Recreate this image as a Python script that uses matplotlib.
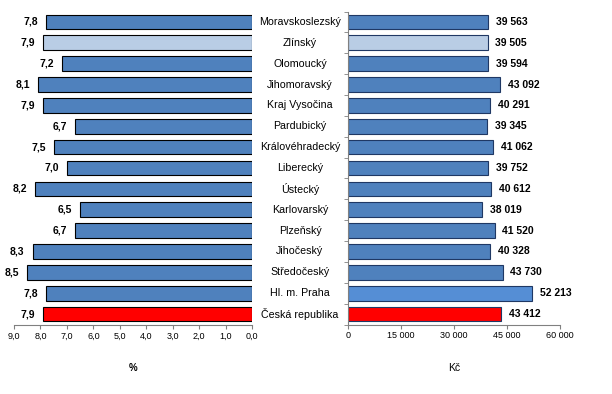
import matplotlib
matplotlib.use("Agg")
import matplotlib.pyplot as plt
import numpy as np

plt.rcParams['font.family'] = ['Liberation Sans', 'DejaVu Sans']

regions = ["Moravskoslezský", "Zlínský", "Olomoucký", "Jihomoravský", "Kraj Vysočina",
           "Pardubický", "Královéhradecký", "Liberecký", "Ústecký", "Karlovarský",
           "Plzeňský", "Jihočeský", "Středočeský", "Hl. m. Praha", "Česká republika"]
pct = [7.8, 7.9, 7.2, 8.1, 7.9, 6.7, 7.5, 7.0, 8.2, 6.5, 6.7, 8.3, 8.5, 7.8, 7.9]
wage = [39563, 39505, 39594, 43092, 40291, 39345, 41062, 39752, 40612, 38019,
        41520, 40328, 43730, 52213, 43412]
pct_ticks = [9.0, 8.0, 7.0, 6.0, 5.0, 4.0, 3.0, 2.0, 1.0, 0.0]
wage_ticks = [0, 15000, 30000, 45000, 60000]

base = '#4F81BD'
left_colors = [base] * len(regions)
left_colors[1] = '#B9CDE5'
left_colors[-1] = '#FF0000'
right_colors = [base] * len(regions)
right_colors[1] = '#B9CDE5'
right_colors[13] = '#558ED5'
right_colors[-1] = '#FF0000'

fig = plt.figure(figsize=(6.12, 3.94), dpi=100)
axL = fig.add_axes([14/612, (394-324.5)/394, 238/612, 313/394])
axR = fig.add_axes([348/612, (394-324.5)/394, 212/612, 313/394])

y = np.arange(len(regions))
gray = '#808080'

axL.barh(y, pct, height=0.7, color=left_colors, edgecolor='black', linewidth=0.8)
axL.set_xlim(9.0, 0.0)
axL.set_ylim(len(regions) - 0.5, -0.5)
axL.set_xticks(pct_ticks)
axL.set_xticklabels([f"{t:.1f}".replace('.', ',') for t in pct_ticks], fontsize=6.5)
axL.set_yticks([])
for s in ['left', 'right', 'top']:
    axL.spines[s].set_visible(False)
axL.spines['bottom'].set_color(gray)
axL.tick_params(axis='x', length=3, color=gray, pad=2)
axL.set_xlabel('%', fontsize=7, fontweight='bold', labelpad=16)
for yi, v in zip(y, pct):
    axL.text(v + 0.3, yi, f"{v:.1f}".replace('.', ','), ha='right', va='center',
             fontsize=7.5, fontweight='bold')

axR.barh(y, wage, height=0.7, color=right_colors, edgecolor='#1F3864', linewidth=0.8)
axR.set_xlim(0, 60000)
axR.set_ylim(len(regions) - 0.5, -0.5)
axR.set_xticks(wage_ticks)
axR.set_xticklabels([f"{t:,}".replace(',', ' ') for t in wage_ticks], fontsize=6.5)
axR.set_yticks([])
axR.set_yticks(np.arange(-0.5, len(regions)), minor=True)
axR.tick_params(axis='y', which='minor', length=3, color=gray)
for s in ['right', 'top']:
    axR.spines[s].set_visible(False)
axR.spines['bottom'].set_color(gray)
axR.spines['left'].set_color(gray)
axR.tick_params(axis='x', length=3, color=gray, pad=2)
axR.set_xlabel('Kč', fontsize=7.5, labelpad=16)
for yi, v in zip(y, wage):
    axR.text(v + 2200, yi, f"{v:,}".replace(',', ' '), ha='left', va='center',
             fontsize=7.5, fontweight='bold')

for yi, name in zip(y, regions):
    yf = axR.transData.transform((0, yi))[1]
    fig.text(300/612, yf / (394), name, ha='center', va='center', fontsize=7.7,
             transform=fig.transFigure)

fig.savefig('out.png', dpi=100)
